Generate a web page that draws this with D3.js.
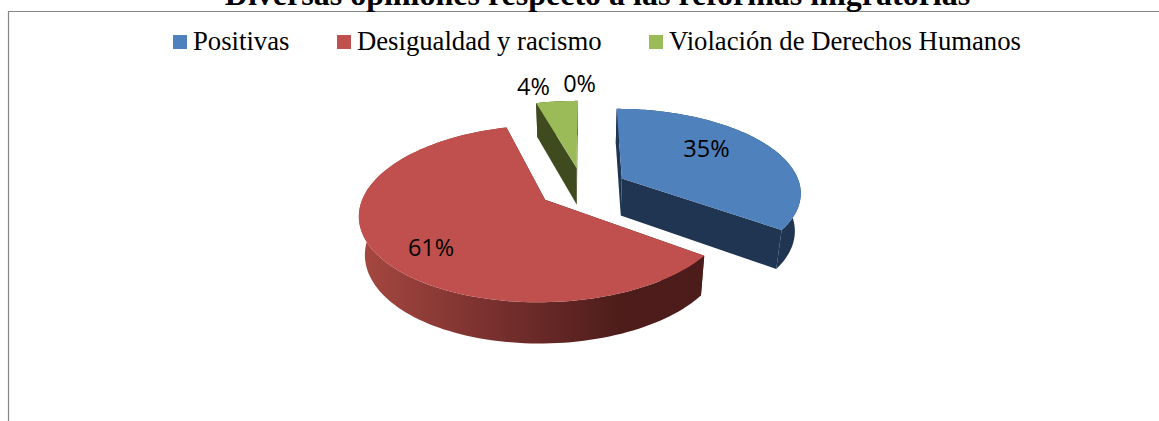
<!DOCTYPE html>
<html lang="es">
<head>
    <meta charset="UTF-8">
    <title>Diversas opiniones respecto a las reformas migratorias</title>
    <script src="https://d3js.org/d3.v7.min.js"></script>
    <style>
        html, body { margin: 0; padding: 0; background: #fff; overflow: hidden; }
        svg { display: block; }
        .title { font: bold 32px "Liberation Serif", serif; text-anchor: middle; fill: #000; }
        .legend text { font: 26.7px "Liberation Serif", serif; fill: #000; }
        .label { font: 23.5px "Open Sans", sans-serif; text-anchor: middle; fill: #000; }
    </style>
</head>
<body>
    <svg id="chart" width="1159" height="421"></svg>

    <script>
        const titleText = "Diversas opiniones respecto a las reformas migratorias";
        const categories = ["Positivas", "Desigualdad y racismo", "Violación de Derechos Humanos", ""];
        const values = [35, 60.6, 4.4, 0];
        const topColors = ["#4F81BD", "#C0504D", "#9BBB59", "#8064A2"];
        const wallColors = ["#1F3552", "#4E1D1B", "#3F4A1F", "#40324F"];

        const svg = d3.select("#chart");

        // flat projection of the tilted pie
        const cx = 582.6, cy = 187.7, rx = 179, ry = 82.8, persp = 0.152;
        const explode = 0.25, depth = 37.5, depthPersp = 0.08, bottomScale = 0.973;

        function topPoint(angle, radius, mid) {
            const u = explode * Math.sin(mid) + radius * Math.sin(angle);
            const v = explode * Math.cos(mid) + radius * Math.cos(angle);
            const w = 1 + persp * v;
            return [cx + rx * u / w, cy - ry * v / w, v];
        }
        function bottomPoint(angle, radius, mid) {
            const [x, y, v] = topPoint(angle, radius, mid);
            return [cx + (x - cx) * bottomScale, y + depth / (1 + depthPersp * v)];
        }
        const line = d3.line().curve(d3.curveLinear);
        const closed = pts => line(pts) + "Z";

        const pie = d3.pie().sort(null).value(d => d).startAngle(0).endAngle(2 * Math.PI);
        const slices = pie(values);

        // frame
        svg.append("path")
            .attr("d", "M8.5,421V11.5H1159")
            .attr("fill", "none").attr("stroke", "#868686").attr("stroke-width", 1.2);

        svg.append("text").attr("class", "title").attr("x", 597.5).attr("y", 5).text(titleText);

        // legend
        const legendX = [173, 337, 649];
        const legend = svg.append("g").attr("class", "legend");
        categories.slice(0, 3).forEach((name, i) => {
            legend.append("rect").attr("x", legendX[i]).attr("y", 35)
                .attr("width", 14).attr("height", 14).attr("fill", topColors[i]);
            legend.append("text").attr("x", legendX[i] + 20).attr("y", 50).text(name);
        });

        // red wall fades to dark left to right
        const grad = svg.append("defs").append("linearGradient")
            .attr("id", "redWall").attr("gradientUnits", "userSpaceOnUse")
            .attr("x1", 360).attr("x2", 705).attr("y1", 0).attr("y2", 0);
        grad.append("stop").attr("offset", "0%").attr("stop-color", "#A64840");
        grad.append("stop").attr("offset", "35%").attr("stop-color", "#7C3230");
        grad.append("stop").attr("offset", "75%").attr("stop-color", "#4E1D1B");
        grad.append("stop").attr("offset", "100%").attr("stop-color", "#4C1C1A");

        const pieG = svg.append("g");
        slices.forEach((s, i) => {
            if (s.value === 0) return;
            const mid = (s.startAngle + s.endAngle) / 2;
            const angles = d3.range(0, 121).map(t => s.startAngle + (s.endAngle - s.startAngle) * t / 120);
            const wallFill = i === 1 ? "url(#redWall)" : wallColors[i];

            // cut walls
            [s.startAngle, s.endAngle].forEach(a => {
                pieG.append("path")
                    .attr("d", closed([topPoint(0, 0, mid), topPoint(a, 1, mid), bottomPoint(a, 1, mid), bottomPoint(0, 0, mid)].map(p => p.slice(0, 2))))
                    .attr("fill", wallColors[i]);
            });
            // outer wall
            const outer = angles.map(a => topPoint(a, 1, mid).slice(0, 2))
                .concat(angles.slice().reverse().map(a => bottomPoint(a, 1, mid)));
            pieG.append("path").attr("d", closed(outer)).attr("fill", wallFill);
            // top face
            const top = [topPoint(0, 0, mid).slice(0, 2)].concat(angles.map(a => topPoint(a, 1, mid).slice(0, 2)));
            pieG.append("path").attr("d", closed(top)).attr("fill", topColors[i]);
        });

        // percentage labels
        const labelRadius = [0.62, 0.72, 1.25, 1.25];
        const labelNudge = [[-7, -8], [4, 10], [-19, 0], [-3, -3]];
        slices.forEach((s, i) => {
            const mid = (s.startAngle + s.endAngle) / 2;
            const p = topPoint(mid, labelRadius[i], mid);
            svg.append("text").attr("class", "label")
                .attr("x", p[0] + labelNudge[i][0]).attr("y", p[1] + labelNudge[i][1] + 8)
                .text(d3.format(".0%")(s.value / 100));
        });
    </script>
</body>
</html>
